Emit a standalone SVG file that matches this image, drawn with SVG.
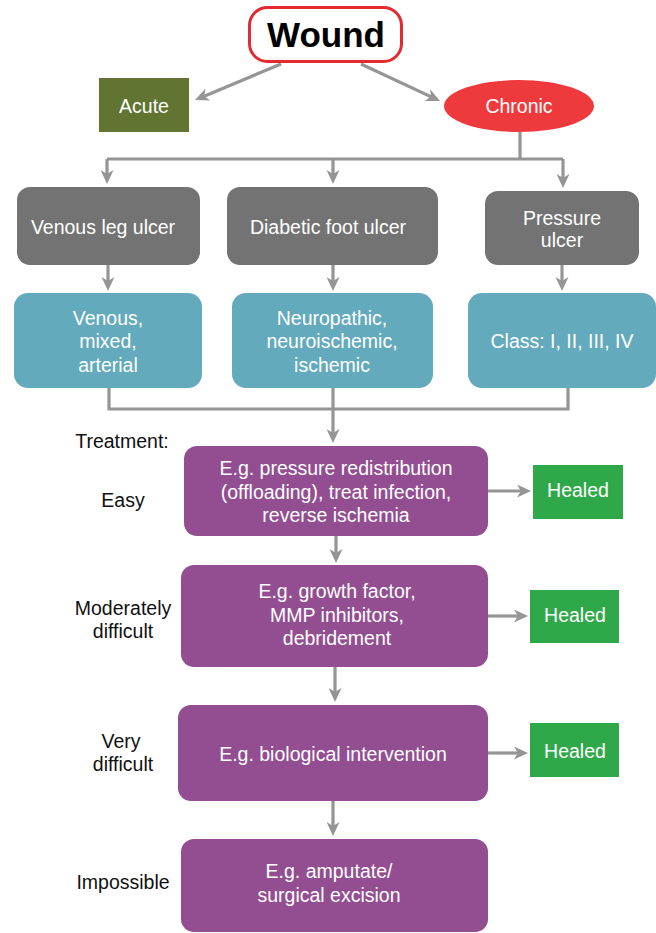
<svg xmlns="http://www.w3.org/2000/svg" width="656" height="933" viewBox="0 0 656 933">
<style>
text{font-family:"Liberation Sans",Arial,Helvetica,sans-serif;font-size:19.5px;text-anchor:middle}
.w{fill:#ffffff}
.k{fill:#111111}
.gray{fill:#737373}
.teal{fill:#63aabd}
.pur{fill:#934e92}
.heal{fill:#2fa84a}
.con{fill:none;stroke:#959595;stroke-width:3.2;marker-end:url(#ah)}
.bus{fill:none;stroke:#959595;stroke-width:3.2}
</style>
<defs>
<marker id="ah" viewBox="0 0 14 13" refX="6" refY="6.5" markerWidth="14" markerHeight="13" markerUnits="userSpaceOnUse" orient="auto">
<path d="M0,0 L14,6.5 L0,13 L4,6.5 z" fill="#959595"/>
</marker>
</defs>
<rect width="656" height="933" fill="#ffffff"/>
<g id="connectors">
<path class="con" d="M281,64 L202.4,96.9"/>
<path class="con" d="M361,64 L432.8,97.6"/>
<path class="bus" d="M520,132 V159 M107,159 H563"/>
<path class="con" d="M107,159 V176"/>
<path class="con" d="M333,159 V176"/>
<path class="con" d="M563,159 V180"/>
<path class="con" d="M108,265 V283"/>
<path class="con" d="M333,265 V283"/>
<path class="con" d="M562,265 V283"/>
<path class="bus" d="M109,388 V409 H568 V388"/>
<path class="con" d="M333,388 V435"/>
<path class="con" d="M488,491 H523"/>
<path class="con" d="M336,536 V555"/>
<path class="con" d="M488,616 H520"/>
<path class="con" d="M335,667 V694"/>
<path class="con" d="M488,753 H520"/>
<path class="con" d="M333,801 V828"/>
</g>
<g id="wound">
<rect x="249.5" y="7.5" width="152" height="54" rx="18" fill="#ffffff" stroke="#e32b2f" stroke-width="3"/>
<text x="326" y="47" style="font-weight:bold;font-size:35px" fill="#000000">Wound</text>
</g>
<g id="acute">
<rect x="99" y="78" width="90" height="54" fill="#617431"/>
<text class="w" x="144" y="113">Acute</text>
</g>
<g id="chronic">
<ellipse cx="519" cy="106" rx="75" ry="26" fill="#ee3a3c"/>
<text class="w" x="519" y="113">Chronic</text>
</g>
<g id="venous-leg-ulcer">
<rect class="gray" x="17" y="187" width="183" height="78" rx="13"/>
<text class="w" x="103" y="234">Venous leg ulcer</text>
</g>
<g id="diabetic-foot-ulcer">
<rect class="gray" x="227" y="187" width="211" height="78" rx="13"/>
<text class="w" x="328" y="234">Diabetic foot ulcer</text>
</g>
<g id="pressure-ulcer">
<rect class="gray" x="485" y="191" width="154" height="74" rx="13"/>
<text class="w" x="562" y="225">Pressure</text>
<text class="w" x="562" y="247">ulcer</text>
</g>
<g id="venous-types">
<rect class="teal" x="14" y="293" width="188" height="95" rx="14"/>
<text class="w" x="108" y="325">Venous,</text>
<text class="w" x="108" y="348">mixed,</text>
<text class="w" x="108" y="372">arterial</text>
</g>
<g id="diabetic-types">
<rect class="teal" x="232" y="293" width="201" height="95" rx="14"/>
<text class="w" x="332" y="325">Neuropathic,</text>
<text class="w" x="332" y="348">neuroischemic,</text>
<text class="w" x="332" y="372">ischemic</text>
</g>
<g id="pressure-classes">
<rect class="teal" x="468" y="293" width="188" height="95" rx="14"/>
<text class="w" x="562" y="348">Class: I, II, III, IV</text>
</g>
<g id="labels">
<text class="k" x="122" y="448">Treatment:</text>
<text class="k" x="123" y="507">Easy</text>
<text class="k" x="123" y="615">Moderately</text>
<text class="k" x="123" y="638">difficult</text>
<text class="k" x="121" y="748">Very</text>
<text class="k" x="123" y="771">difficult</text>
<text class="k" x="123" y="889">Impossible</text>
</g>
<g id="treat-easy">
<rect class="pur" x="184" y="446" width="304" height="90" rx="13"/>
<text class="w" x="336" y="475">E.g. pressure redistribution</text>
<text class="w" x="336" y="499">(offloading), treat infection,</text>
<text class="w" x="336" y="522">reverse ischemia</text>
</g>
<g id="healed-1">
<rect class="heal" x="533" y="465" width="90" height="54"/>
<text class="w" x="578" y="497">Healed</text>
</g>
<g id="treat-moderate">
<rect class="pur" x="181" y="565" width="307" height="102" rx="13"/>
<text class="w" x="337" y="598">E.g. growth factor,</text>
<text class="w" x="337" y="622">MMP inhibitors,</text>
<text class="w" x="337" y="645">debridement</text>
</g>
<g id="healed-2">
<rect class="heal" x="530" y="590" width="89" height="53"/>
<text class="w" x="575" y="622">Healed</text>
</g>
<g id="treat-very">
<rect class="pur" x="178" y="705" width="310" height="96" rx="13"/>
<text class="w" x="333" y="761">E.g. biological intervention</text>
</g>
<g id="healed-3">
<rect class="heal" x="530" y="723" width="89" height="54"/>
<text class="w" x="575" y="758">Healed</text>
</g>
<g id="treat-impossible">
<rect class="pur" x="181" y="839" width="307" height="93" rx="13"/>
<text class="w" x="329" y="878">E.g. amputate/</text>
<text class="w" x="329" y="902">surgical excision</text>
</g>
</svg>
